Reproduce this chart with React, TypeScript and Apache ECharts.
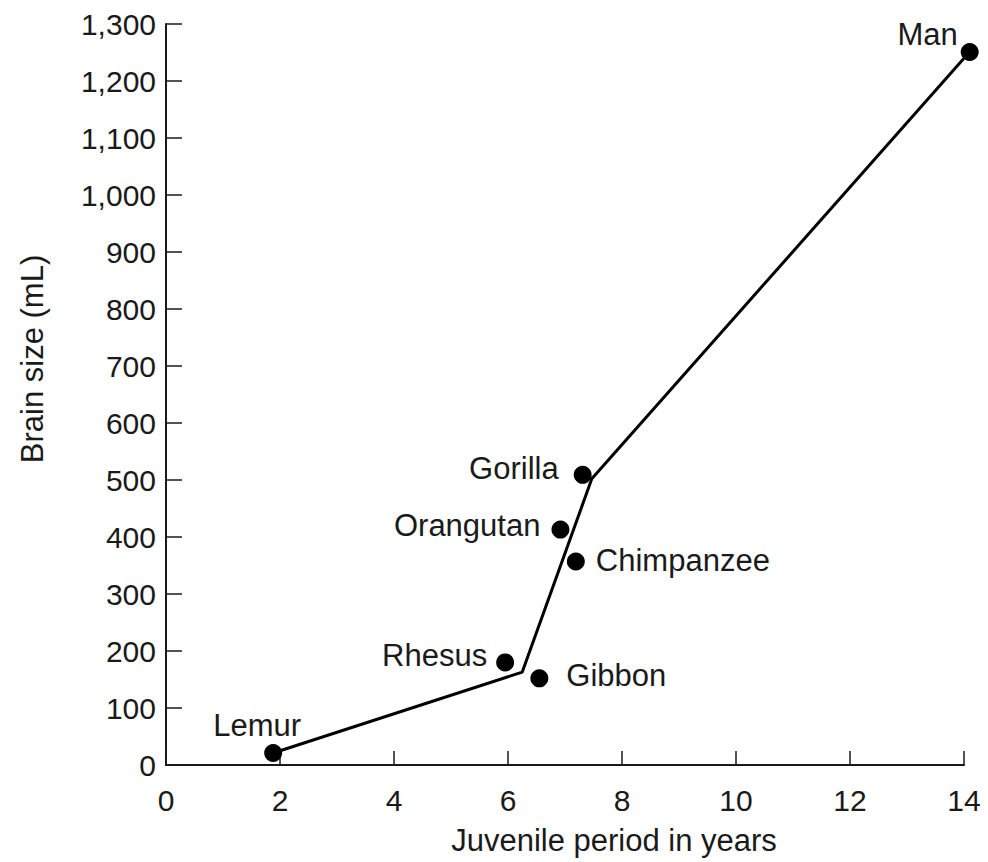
import React, { useEffect, useRef } from "react";
import * as echarts from "echarts";

const species = ["Lemur", "Rhesus", "Gibbon", "Orangutan", "Chimpanzee", "Gorilla", "Man"];
const juvenileYears = [1.88, 5.95, 6.55, 6.92, 7.19, 7.31, 14.1];
const brainSize = [21, 180, 152, 413, 357, 509, 1251];

const trendYears = [1.88, 6.25, 7.47, 14.1];
const trendBrain = [21, 163, 502, 1251];

const xTicks = [0, 2, 4, 6, 8, 10, 12, 14];
const yTicks = [0, 100, 200, 300, 400, 500, 600, 700, 800, 900, 1000, 1100, 1200, 1300];

const labelPlacement: Record<string, { position: string; distance: number; offset: number[] }> = {
  Lemur: { position: "top", distance: 3, offset: [-16, 0] },
  Rhesus: { position: "left", distance: 9, offset: [0, -7] },
  Gibbon: { position: "right", distance: 18, offset: [0, -3] },
  Orangutan: { position: "left", distance: 11, offset: [0, -4] },
  Chimpanzee: { position: "right", distance: 11, offset: [0, -1] },
  Gorilla: { position: "left", distance: 15, offset: [0, -6] },
  Man: { position: "left", distance: 3, offset: [0, -17] },
};

const FONT = "'Liberation Sans', Arial, Helvetica, sans-serif";
const INK = "#1a1a1a";

export default function App() {
  const ref = useRef<HTMLDivElement>(null);

  useEffect(() => {
    if (!ref.current) return;
    const chart = echarts.init(ref.current, null, { renderer: "svg" });

    const scatterData = species.map((name, i) => ({
      name,
      value: [juvenileYears[i], brainSize[i]],
      label: {
        show: true,
        position: labelPlacement[name].position,
        distance: labelPlacement[name].distance,
        offset: labelPlacement[name].offset,
      },
    }));

    const lineData = trendYears.map((x, i) => [x, trendBrain[i]]);

    chart.setOption({
      animation: false,
      backgroundColor: "#ffffff",
      grid: { left: 166, right: 24, top: 24, bottom: 97, containLabel: false },
      xAxis: {
        type: "value",
        min: xTicks[0],
        max: xTicks[xTicks.length - 1],
        interval: 2,
        splitLine: { show: false },
        axisLine: { show: true, onZero: false, lineStyle: { color: INK, width: 2 } },
        axisTick: { show: true, inside: true, length: 14, lineStyle: { color: INK, width: 1.5 } },
        axisLabel: { color: INK, fontSize: 30, fontFamily: FONT, margin: 20 },
      },
      yAxis: {
        type: "value",
        min: yTicks[0],
        max: yTicks[yTicks.length - 1],
        interval: 100,
        splitLine: { show: false },
        axisLine: { show: true, onZero: false, lineStyle: { color: INK, width: 2 } },
        axisTick: { show: true, inside: true, length: 16, lineStyle: { color: INK, width: 1.5 } },
        axisLabel: {
          color: INK,
          fontSize: 30,
          fontFamily: FONT,
          margin: 10,
          formatter: (v: number) => v.toLocaleString("en-US"),
        },
      },
      graphic: [
        {
          type: "text",
          x: 32,
          y: 359,
          rotation: Math.PI / 2,
          style: {
            text: "Brain size (mL)",
            fontSize: 31,
            fontFamily: FONT,
            fill: INK,
            align: "center",
            verticalAlign: "middle",
          },
        },
        {
          type: "text",
          x: 614,
          y: 840,
          style: {
            text: "Juvenile period in years",
            fontSize: 31,
            fontFamily: FONT,
            fill: INK,
            align: "center",
            verticalAlign: "middle",
          },
        },
      ],
      series: [
        {
          type: "line",
          data: lineData,
          showSymbol: false,
          symbol: "none",
          clip: false,
          lineStyle: { color: "#000", width: 3 },
          z: 2,
        },
        {
          type: "scatter",
          data: scatterData,
          symbol: "circle",
          symbolSize: 18,
          clip: false,
          itemStyle: { color: "#000", opacity: 1 },
          label: {
            show: true,
            formatter: "{b}",
            color: INK,
            fontSize: 31,
            fontFamily: FONT,
          },
          z: 3,
        },
      ],
    });

    return () => chart.dispose();
  }, []);

  return (
    <div
      ref={ref}
      style={{ position: "fixed", left: 0, top: 0, width: 988, height: 862, background: "#fff" }}
    />
  );
}
